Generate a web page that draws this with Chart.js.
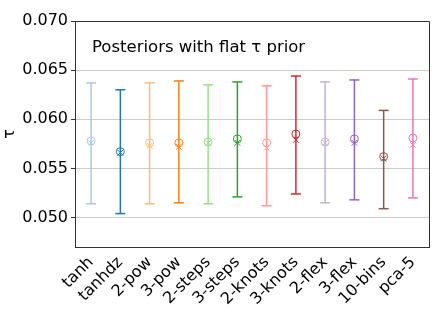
<!DOCTYPE html>
<html>
<head>
<meta charset="utf-8">
<script src="https://cdn.jsdelivr.net/npm/chart.js"></script>
<style>
  html, body { margin: 0; padding: 0; background: #ffffff; }
  #wrap { width: 439px; height: 310px; }
</style>
</head>
<body>
<div id="wrap"><canvas id="tau"></canvas></div>
<script>
// values
const labels = ['tanh', 'tanhdz', '2-pow', '3-pow', '2-steps', '3-steps',
  '2-knots', '3-knots', '2-flex', '3-flex', '10-bins', 'pca-5'];
const means   = [0.0578, 0.0567, 0.0576, 0.0576, 0.0577, 0.0580, 0.0576, 0.0585, 0.0577, 0.0580, 0.0562, 0.0581];
const medians = [0.0576, 0.0566, 0.0573, 0.0572, 0.0576, 0.0576, 0.0571, 0.0579, 0.0576, 0.0576, 0.0560, 0.0574];
const lower   = [0.0514, 0.0504, 0.0514, 0.0515, 0.0514, 0.0521, 0.0512, 0.0524, 0.0515, 0.0518, 0.0509, 0.0520];
const upper   = [0.0637, 0.0630, 0.0637, 0.0639, 0.0635, 0.0638, 0.0634, 0.0644, 0.0638, 0.0640, 0.0609, 0.0641];
const yTicks  = [0.050, 0.055, 0.060, 0.065, 0.070];
const colors  = ['#aec7e8', '#1f77b4', '#ffbb78', '#ff7f0e', '#98df8a', '#2ca02c',
  '#ff9896', '#d62728', '#c5b0d5', '#9467bd', '#8c564b', '#e377c2'];

const FONT = 'DejaVu Sans';

// one line dataset per category: low -> high, caps from pointStyle 'line'
const errorSets = labels.map((name, i) => ({
  type: 'line',
  data: [{ x: i, y: lower[i] }, { x: i, y: upper[i] }],
  borderColor: colors[i],
  borderWidth: 1.5,
  pointStyle: 'line',
  pointRadius: 5,
  pointBorderWidth: 1.5,
  pointBorderColor: colors[i],
  order: 2
}));

const meanSet = {
  type: 'scatter',
  data: means.map((v, i) => ({ x: i, y: v })),
  pointStyle: 'circle',
  pointRadius: 4,
  pointBorderWidth: 1,
  pointBorderColor: colors,
  pointBackgroundColor: 'rgba(0,0,0,0)',
  order: 1
};

const medianSet = {
  type: 'scatter',
  data: medians.map((v, i) => ({ x: i, y: v })),
  pointStyle: 'crossRot',
  pointRadius: 4,
  pointBorderWidth: 1,
  pointBorderColor: colors,
  order: 1
};

// top/right spines and the inner title
const framePlugin = {
  id: 'frame',
  afterDraw(chart) {
    const { ctx, chartArea: a } = chart;
    ctx.save();
    ctx.strokeStyle = '#333333';
    ctx.lineWidth = 1;
    ctx.beginPath();
    ctx.moveTo(a.left, a.top + 0.5);
    ctx.lineTo(a.right + 0.5, a.top + 0.5);
    ctx.lineTo(a.right + 0.5, a.bottom);
    ctx.stroke();
    ctx.fillStyle = '#000000';
    ctx.font = '16.5px "' + FONT + '"';
    ctx.textBaseline = 'alphabetic';
    ctx.fillText('Posteriors with flat \u03c4 prior', a.left + 17, a.top + 31);
    ctx.restore();
  }
};

new Chart(document.getElementById('tau'), {
  data: { datasets: [meanSet, medianSet, ...errorSets] },
  options: {
    responsive: true,
    maintainAspectRatio: false,
    animation: false,
    layout: { padding: { top: 21, right: 10, left: 0, bottom: 0 } },
    plugins: {
      legend: { display: false },
      tooltip: { enabled: false }
    },
    scales: {
      x: {
        type: 'linear',
        min: -0.55,
        max: 11.55,
        afterBuildTicks: scale => {
          scale.ticks = labels.map((n, i) => ({ value: i }));
        },
        afterFit: scale => { scale.height = 63; },
        grid: { display: false, drawOnChartArea: false, drawTicks: true, tickLength: 4, tickColor: '#333333' },
        border: { display: true, color: '#333333', width: 1 },
        ticks: {
          color: '#000000',
          font: { family: FONT, size: 16 },
          minRotation: 45,
          maxRotation: 45,
          padding: 2,
          autoSkip: false,
          callback: v => labels[v]
        }
      },
      y: {
        min: 0.047,
        max: 0.070,
        afterBuildTicks: scale => {
          scale.ticks = yTicks.map(v => ({ value: v }));
        },
        afterFit: scale => { scale.width = 75; },
        grid: { color: '#cccccc', lineWidth: 1, tickLength: 4, tickColor: '#333333' },
        border: { display: true, color: '#333333', width: 1 },
        title: {
          display: true,
          text: '\u03c4',
          color: '#000000',
          font: { family: FONT, size: 16 },
          padding: { top: 0, bottom: 0, left: 2 }
        },
        ticks: {
          color: '#000000',
          font: { family: FONT, size: 16 },
          padding: 3,
          callback: v => v.toFixed(3)
        }
      }
    }
  },
  plugins: [framePlugin]
});
</script>
</body>
</html>
